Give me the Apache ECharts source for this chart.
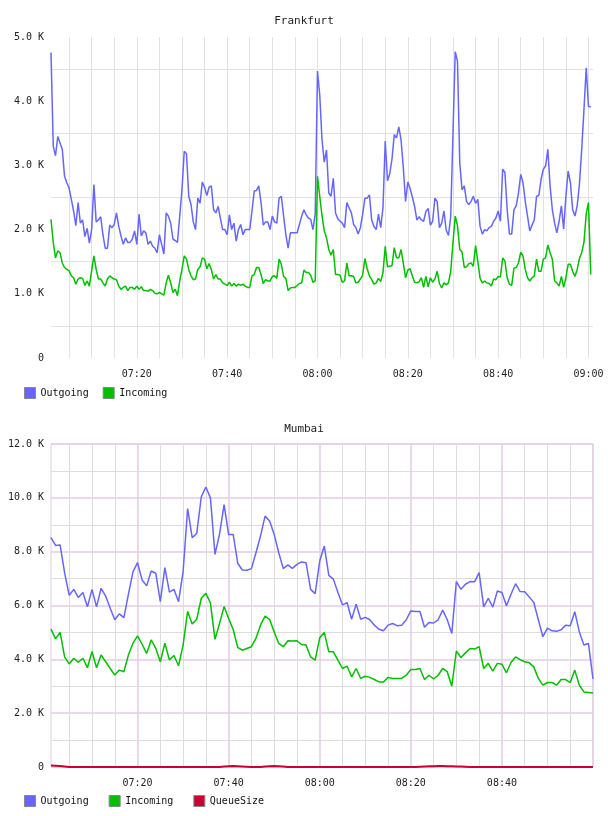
<!DOCTYPE html>
<html>
<head>
<meta charset="utf-8">
<script src="https://cdn.jsdelivr.net/npm/echarts@6/dist/echarts.min.js"></script>
<style>
  html, body { margin: 0; padding: 0; background: #fff; }
  #chart { width: 608px; height: 816px; }
</style>
</head>
<body>
<div id="chart"></div>
<script>
// Frankfurt: one sample every 30 s starting 07:01:00
const frankfurtStart = '07:01:00'
const frankfurtStepSec = 30
const frankfurtCount = 241

const frankfurtOutgoing = [
  4760, 3300, 3150, 3450, 3350, 3250, 2830, 2730, 2650, 2470,
  2290, 2060, 2420, 2100, 2150, 1890, 2020, 1790, 2000, 2700,
  2120, 2150, 2200, 1920, 1710, 1710, 2070, 2030, 2080, 2260,
  2050, 1900, 1770, 1870, 1800, 1800, 1850, 1980, 1770, 2240,
  1900, 1980, 1950, 1770, 1820, 1740, 1710, 1640, 1920, 1770,
  1620, 2260, 2210, 2100, 1850, 1830, 1800, 2210, 2620, 3220,
  3180, 2520, 2390, 2120, 2000, 2490, 2410, 2740, 2660, 2530,
  2660, 2680, 2310, 2260, 2360, 2180, 2000, 2000, 1920, 2230,
  2000, 2100, 1820, 2000, 2080, 1920, 2000, 2000, 2000, 2290,
  2600, 2610, 2680, 2420, 2070, 2120, 2120, 2000, 2210, 2120,
  2100, 2490, 2520, 2210, 1920, 1710, 1950, 1950, 1950, 1950,
  2080, 2210, 2310, 2230, 2180, 2160, 2000, 2250, 4470, 4100,
  3400, 3050, 3240, 2570, 2520, 2800, 2260, 2170, 2130, 2100,
  2030, 2420, 2340, 2260, 2080, 2030, 1930, 2030, 2240, 2490,
  2490, 2540, 2150, 2050, 2000, 2240, 2030, 2340, 3380, 2760,
  2870, 3100, 3480, 3430, 3600, 3400, 2970, 2440, 2740, 2640,
  2510, 2360, 2150, 2200, 2150, 2130, 2280, 2330, 2070, 2130,
  2490, 2440, 2030, 2100, 2290, 1990, 1910, 2200, 3500, 4770,
  4620, 3040, 2620, 2680, 2440, 2390, 2440, 2520, 2410, 2470,
  2050, 1930, 2000, 1980, 2030, 2050, 2130, 2180, 2290, 2130,
  2940, 2890, 2310, 1930, 1930, 2310, 2370, 2570, 2860, 2730,
  2440, 2210, 1980, 2070, 2150, 2520, 2530, 2780, 2940, 2990,
  3250, 2680, 2310, 2100, 1950, 2130, 2370, 2010, 2520, 2910,
  2730, 2310, 2210, 2370, 2710, 3250, 3870, 4520, 3920, 3910
]

const frankfurtIncoming = [
  2160, 1800, 1560, 1670, 1640, 1480, 1410, 1380, 1360, 1280,
  1250, 1150, 1230, 1250, 1240, 1130, 1200, 1120, 1360, 1590,
  1380, 1230, 1230, 1170, 1120, 1230, 1280, 1250, 1230, 1220,
  1120, 1070, 1100, 1120, 1050, 1100, 1100, 1070, 1120, 1070,
  1110, 1050, 1050, 1040, 1070, 1050, 1010, 1000, 1020, 1000,
  980, 1170, 1290, 1170, 1020, 1070, 970, 1200, 1380, 1590,
  1540, 1380, 1280, 1220, 1230, 1380, 1420, 1560, 1540, 1390,
  1470, 1380, 1230, 1300, 1230, 1230, 1170, 1150, 1130, 1180,
  1120, 1160, 1120, 1150, 1130, 1150, 1120, 1100, 1100, 1280,
  1300, 1410, 1410, 1300, 1160, 1220, 1200, 1200, 1270, 1280,
  1240, 1540, 1460, 1270, 1240, 1050, 1090, 1100, 1100, 1130,
  1160, 1170, 1370, 1330, 1330, 1290, 1180, 1200, 2830, 2520,
  2220, 1980, 1870, 1690, 1600, 1690, 1300, 1300, 1290, 1180,
  1200, 1480, 1280, 1280, 1270, 1170, 1180, 1230, 1290, 1550,
  1390, 1280, 1220, 1150, 1170, 1240, 1190, 1330, 1740, 1420,
  1430, 1440, 1720, 1560, 1560, 1690, 1480, 1250, 1370, 1390,
  1280, 1180, 1170, 1190, 1250, 1100, 1270, 1110, 1250, 1180,
  1230, 1350, 1160, 1090, 1170, 1140, 1170, 1350, 1800, 2210,
  2060, 1690, 1650, 1410, 1420, 1470, 1480, 1430, 1750, 1500,
  1240, 1170, 1200, 1170, 1160, 1120, 1230, 1220, 1270, 1260,
  1560, 1510, 1250, 1150, 1130, 1400, 1410, 1480, 1650, 1590,
  1380, 1250, 1200, 1250, 1280, 1540, 1350, 1350, 1540, 1560,
  1760, 1640, 1540, 1200, 1170, 1120, 1270, 1100, 1250, 1460,
  1460, 1350, 1270, 1380, 1550, 1640, 1800, 2250, 2420, 1300
]

// Mumbai: one sample per minute starting 07:01
const mumbaiStart = '07:01:00'
const mumbaiStepSec = 60
const mumbaiCount = 120

const mumbaiOutgoing = [
  8520, 8230, 8250, 7200, 6380, 6600, 6300, 6480, 5950, 6600,
  5950, 6640, 6350, 5900, 5470, 5690, 5550, 6420, 7250, 7590,
  6950, 6730, 7280, 7200, 6140, 7410, 6500, 6600, 6140, 7250,
  9600, 8520, 8680, 10040, 10400, 10000, 7900, 8640, 9750, 8640,
  8640, 7570, 7320, 7310, 7370, 7960, 8580, 9320, 9140, 8640,
  7960, 7370, 7510, 7380, 7530, 7620, 7590, 6600, 6440, 7650,
  8210, 7120, 6980, 6480, 6020, 6110, 5490, 6050, 5490, 5560,
  5470, 5270, 5120, 5060, 5270, 5330, 5250, 5270, 5470, 5800,
  5780, 5780, 5190, 5370, 5350, 5470, 5830, 5470, 4960, 6890,
  6600, 6790, 6890, 6880, 7220, 5950, 6270, 5940, 6540, 6480,
  5990, 6420, 6810, 6520, 6510, 6320, 6110, 5470, 4840, 5160,
  5060, 5040, 5100, 5270, 5250, 5770, 5020, 4530, 4590, 3270
]

const mumbaiIncoming = [
  5120, 4760, 5000, 4080, 3830, 4040, 3890, 4040, 3690, 4290,
  3690, 4160, 3910, 3660, 3420, 3600, 3540, 4160, 4600, 4870,
  4560, 4220, 4720, 4410, 3910, 4600, 3980, 4140, 3760, 4530,
  5780, 5310, 5490, 6270, 6450, 6100, 4740, 5330, 5960, 5520,
  5110, 4440, 4340, 4400, 4470, 4780, 5270, 5610, 5480, 5020,
  4590, 4470, 4690, 4680, 4690, 4550, 4530, 4090, 3970, 4800,
  5000, 4280, 4280, 3970, 3660, 3750, 3350, 3660, 3290, 3370,
  3330, 3250, 3160, 3160, 3330, 3290, 3290, 3290, 3410, 3620,
  3620, 3660, 3250, 3410, 3270, 3410, 3660, 3540, 3000, 4310,
  4070, 4240, 4400, 4380, 4470, 3660, 3850, 3560, 3850, 3820,
  3500, 3880, 4090, 3990, 3910, 3870, 3720, 3290, 3040, 3140,
  3140, 3040, 3250, 3250, 3130, 3600, 3040, 2790, 2770, 2750
]

const mumbaiQueueSize = [
  60, 50, 40, 20, 0, 0, 0, 0, 0, 0,
  0, 0, 0, 0, 0, 0, 0, 0, 0, 0,
  0, 0, 0, 0, 0, 0, 0, 0, 0, 0,
  0, 0, 0, 0, 0, 0, 0, 0, 20, 30,
  40, 30, 20, 10, 0, 0, 0, 20, 30, 40,
  30, 20, 0, 0, 0, 0, 0, 0, 0, 0,
  0, 0, 0, 0, 0, 0, 0, 0, 0, 0,
  0, 0, 0, 0, 0, 0, 0, 0, 0, 0,
  0, 10, 20, 30, 30, 40, 40, 30, 30, 20,
  20, 10, 0, 0, 0, 0, 0, 0, 0, 0,
  0, 0, 0, 0, 0, 0, 0, 0, 0, 0,
  0, 0, 0, 0, 0, 0, 0, 0, 0, 0
]

const FONT = 'DejaVu Sans Mono'
const BLUE = '#6666ff'
const GREEN = '#00c000'
const RED = '#cc0033'
const GRID_GREY = '#e2e2e2'
const MINOR_GREY = '#dddddd'
const MAJOR_PINK = '#e3cde3'

const toSec = s => {
  const [h, m, sec] = s.split(':').map(Number)
  return h * 3600 + m * 60 + sec
}
const pad = n => String(n).padStart(2, '0')
const fromSec = t => pad(Math.floor(t / 3600)) + ':' + pad(Math.floor(t / 60) % 60) + ':' + pad(t % 60)

function timeLabels(start, step, count) {
  const t0 = toSec(start)
  const out = []
  for (let i = 0; i < count; i++) out.push(fromSec(t0 + i * step))
  return out
}

const frankfurtTimes = timeLabels(frankfurtStart, frankfurtStepSec, frankfurtCount)
const mumbaiTimes = timeLabels(mumbaiStart, mumbaiStepSec, mumbaiCount)

const onMark = (v, minutes) => toSec(v) % (minutes * 60) === 0
const kFmt = v => v % 1000 ? '' : (v === 0 ? '0' : (v / 1000).toFixed(1) + ' K')

const labelStyle = { fontFamily: FONT, fontSize: 10, color: '#222' }

const lineSeries = (name, data, color, xi, yi, width) => ({
  name, type: 'line', data,
  xAxisIndex: xi, yAxisIndex: yi,
  symbol: 'none', showSymbol: false,
  lineStyle: { width: width || 1.5, color },
  itemStyle: { color },
  emphasis: { disabled: true }
})

const legendBase = {
  icon: 'rect', itemWidth: 11, itemHeight: 11, padding: 0, left: 24,
  itemStyle: { borderColor: '#888', borderWidth: 1 },
  textStyle: { fontFamily: FONT, fontSize: 10, color: '#111' },
  selectedMode: false
}

const titleStyle = { fontFamily: FONT, fontSize: 11, fontWeight: 'normal', color: '#222' }

const option = {
  animation: false,
  backgroundColor: '#fff',
  title: [
    { text: 'Frankfurt', left: 'center', top: 16, padding: 0, textStyle: titleStyle },
    { text: 'Mumbai', left: 'center', top: 424, padding: 0, textStyle: titleStyle }
  ],
  legend: [
    Object.assign({}, legendBase, { data: ['Outgoing', 'Incoming'], top: 387, itemGap: 14 }),
    Object.assign({}, legendBase, { data: ['Outgoing', 'Incoming', 'QueueSize'], top: 795, itemGap: 20 })
  ],
  grid: [
    { left: 51, right: 15, top: 37, height: 321 },
    { left: 51, right: 15, top: 444, height: 323, show: true, borderColor: MAJOR_PINK, borderWidth: 1 }
  ],
  xAxis: [
    {
      gridIndex: 0, type: 'category', data: frankfurtTimes, boundaryGap: false,
      axisLine: { show: false }, axisTick: { show: false },
      axisLabel: Object.assign({
        interval: (i, v) => onMark(v, 20),
        formatter: v => v.slice(0, 5), margin: 11
      }, labelStyle),
      splitLine: { show: true, interval: (i, v) => onMark(v, 5), lineStyle: { color: GRID_GREY, width: 1 } }
    },
    {
      gridIndex: 1, type: 'category', data: mumbaiTimes, boundaryGap: false,
      axisLine: { show: false }, axisTick: { show: false },
      axisLabel: Object.assign({
        interval: (i, v) => onMark(v, 20) && i < mumbaiTimes.length - 1,
        formatter: v => v.slice(0, 5), margin: 11
      }, labelStyle),
      splitLine: { show: true, interval: (i, v) => onMark(v, 20), lineStyle: { color: MAJOR_PINK, width: 1.5 } }
    },
    {
      gridIndex: 1, type: 'category', data: mumbaiTimes, boundaryGap: false,
      axisLine: { show: false }, axisTick: { show: false }, axisLabel: { show: false },
      splitLine: { show: true, interval: (i, v) => onMark(v, 5) && !onMark(v, 20), lineStyle: { color: MINOR_GREY, width: 1 } }
    }
  ],
  yAxis: [
    {
      gridIndex: 0, type: 'value', min: 0, max: 5000, interval: 500,
      axisLine: { show: false }, axisTick: { show: false },
      axisLabel: Object.assign({ formatter: kFmt, margin: 7 }, labelStyle),
      splitLine: { lineStyle: { color: ['rgba(0,0,0,0)', GRID_GREY], width: 1 } }
    },
    {
      gridIndex: 1, type: 'value', min: 0, max: 12000, interval: 2000,
      axisLine: { show: false }, axisTick: { show: false },
      axisLabel: Object.assign({ formatter: kFmt, margin: 7 }, labelStyle),
      splitLine: { lineStyle: { color: MAJOR_PINK, width: 1.5 } }
    },
    {
      gridIndex: 1, type: 'value', min: 0, max: 12000, interval: 1000,
      axisLine: { show: false }, axisTick: { show: false }, axisLabel: { show: false },
      splitLine: { lineStyle: { color: ['rgba(0,0,0,0)', MINOR_GREY], width: 1 } }
    }
  ],
  series: [
    lineSeries('Outgoing', frankfurtOutgoing, BLUE, 0, 0),
    lineSeries('Incoming', frankfurtIncoming, GREEN, 0, 0),
    lineSeries('Outgoing', mumbaiOutgoing, BLUE, 1, 1),
    lineSeries('Incoming', mumbaiIncoming, GREEN, 1, 1),
    lineSeries('QueueSize', mumbaiQueueSize, RED, 1, 1, 2)
  ]
}

const myChart = echarts.init(document.getElementById('chart'), null, { renderer: 'canvas' })
myChart.setOption(option)
</script>
</body>
</html>
